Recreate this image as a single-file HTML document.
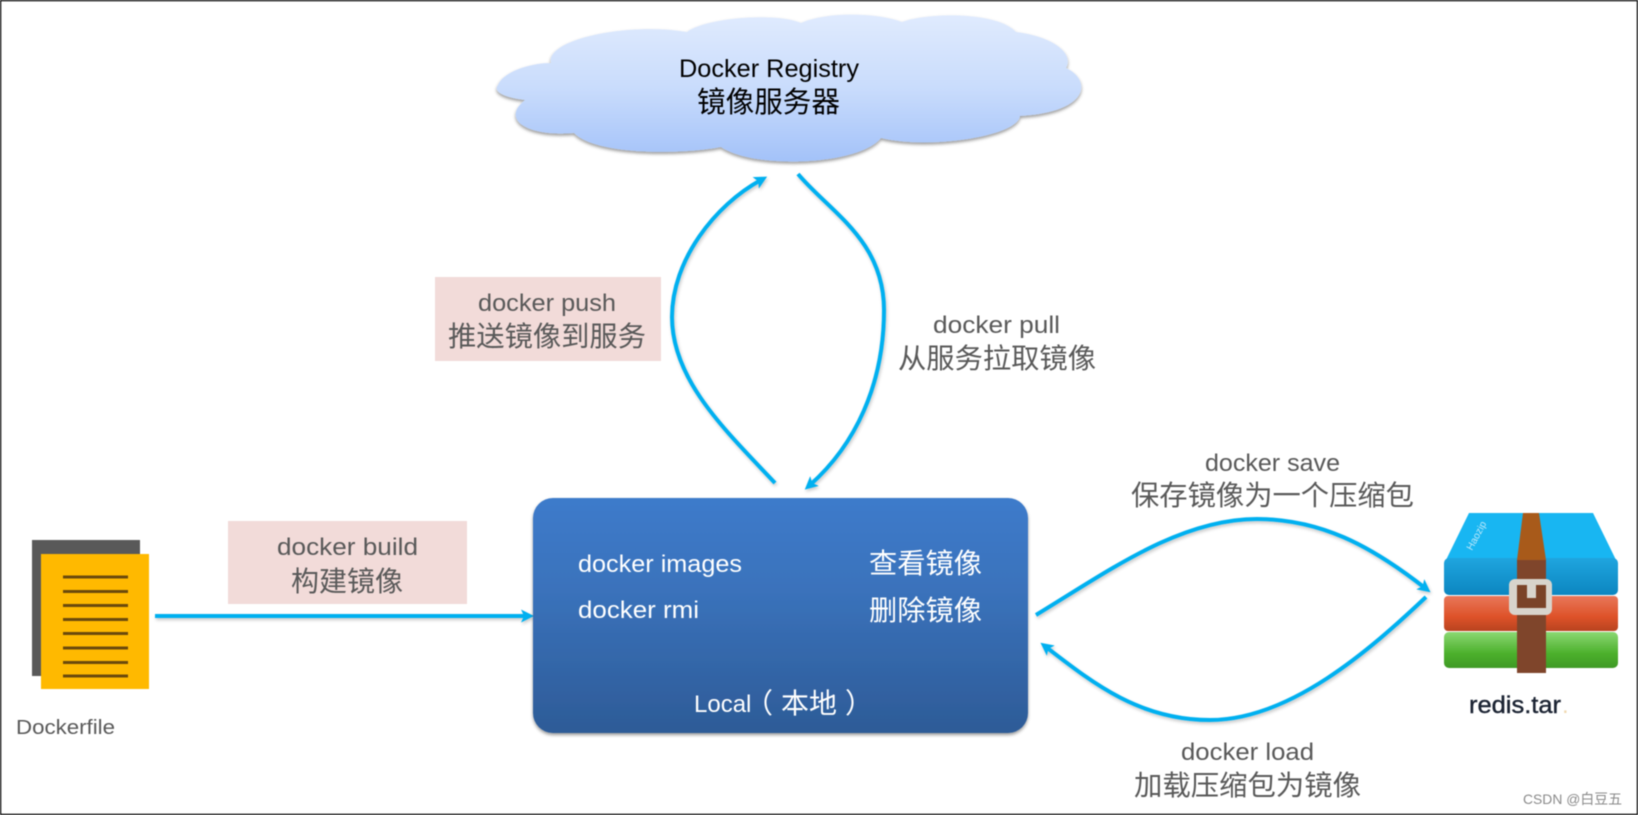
<!DOCTYPE html>
<html>
<head>
<meta charset="utf-8">
<style>
html,body{margin:0;padding:0;background:#fff;width:1638px;height:815px;overflow:hidden}
svg{display:block;filter:blur(.45px)}
text{font-family:"Liberation Sans","Noto Sans CJK SC",sans-serif}
.g{fill:#595959;font-size:24px}
.c{fill:#595959;font-size:28px}
.w{fill:#fff;font-size:24px}
.wc{fill:#fff;font-size:28px}
</style>
</head>
<body>
<svg width="1638" height="815" viewBox="0 0 1638 815" xmlns="http://www.w3.org/2000/svg">
<defs>
<linearGradient id="cl" x1="0" y1="0" x2="0" y2="1"><stop offset="0" stop-color="#e0ebfe"/><stop offset=".5" stop-color="#c9dcfc"/><stop offset="1" stop-color="#a3c2f9"/></linearGradient>
<linearGradient id="bx" x1="0" y1="0" x2="0" y2="1"><stop offset="0" stop-color="#3d7bcb"/><stop offset=".4" stop-color="#3a72bb"/><stop offset="1" stop-color="#2d5b97"/></linearGradient>
<linearGradient id="bl" x1="0" y1="0" x2="0" y2="1"><stop offset="0" stop-color="#1fa5df"/><stop offset="1" stop-color="#0c86c0"/></linearGradient>
<linearGradient id="rd" x1="0" y1="0" x2="0" y2="1"><stop offset="0" stop-color="#e8775a"/><stop offset=".6" stop-color="#de5229"/><stop offset="1" stop-color="#b8431f"/></linearGradient>
<linearGradient id="gr" x1="0" y1="0" x2="0" y2="1"><stop offset="0" stop-color="#8bd873"/><stop offset=".6" stop-color="#4cb02c"/><stop offset="1" stop-color="#3f9a25"/></linearGradient>
<filter id="sh" x="-5%" y="-5%" width="110%" height="115%"><feDropShadow dx="0" dy="2" stdDeviation="1.5" flood-color="#000" flood-opacity=".4"/></filter>
<filter id="ls" x="-10%" y="-10%" width="120%" height="120%"><feDropShadow dx="1" dy="2" stdDeviation="1.5" flood-color="#000" flood-opacity=".22"/></filter>
<marker id="a" markerUnits="userSpaceOnUse" markerWidth="16" markerHeight="16" refX="6" refY="8" orient="auto"><path d="M0,1.5 L13,8 L0,14.5 L3,8 Z" fill="#00b0f0"/></marker>
</defs>

<rect x="0.5" y="0.5" width="1637" height="814" fill="#fff" stroke="#000" stroke-width="1.5"/>

<path filter="url(#sh)" fill="url(#cl)" d="M498,85 C503,72 530,63 551,63 C545,40 625,22 687,32 C705,18 775,12 801,23 C825,12 875,12 902,22 C930,12 998,12 1016,32 C1050,36 1075,52 1066,68 C1092,80 1090,112 1020,116 C1018,136 930,150 881,138 C860,165 755,170 721,147 C680,155 595,155 574,133 C528,137 500,120 525,100 C506,98 492,92 498,85 Z"/>
<text x="679" y="77" font-size="25" fill="#000" textLength="180" lengthAdjust="spacingAndGlyphs">Docker Registry</text>
<text x="697" y="112" font-size="29" fill="#000" textLength="143" lengthAdjust="spacingAndGlyphs">镜像服务器</text>

<rect x="435" y="277" width="226" height="84" fill="#f2dbd9"/>
<rect x="228" y="521" width="239" height="83" fill="#f2dbd9"/>

<g fill="none" stroke="#00b0f0" stroke-width="4" filter="url(#ls)">
<path marker-end="url(#a)" d="M775,483 C725,430 672,380 672,317 C672,260 715,205 761,180"/>
<path marker-end="url(#a)" d="M798,174 C830,212 884,240 884,310 C884,385 855,445 810,485"/>
<path marker-end="url(#a)" d="M155,616 L527,616"/>
<path marker-end="url(#a)" d="M1036,615 C1110,570 1180,519 1257,519 C1320,519 1370,545 1425,588"/>
<path marker-end="url(#a)" d="M1426,597 C1370,650 1290,720 1210,720 C1140,720 1094,684 1046,647"/>
</g>

<text class="g" x="478" y="311" textLength="138" lengthAdjust="spacingAndGlyphs">docker push</text>
<text class="c" x="448" y="346" textLength="198" lengthAdjust="spacingAndGlyphs">推送镜像到服务</text>
<text class="g" x="933" y="333" textLength="127" lengthAdjust="spacingAndGlyphs">docker pull</text>
<text class="c" x="898" y="368" textLength="198" lengthAdjust="spacingAndGlyphs">从服务拉取镜像</text>
<text class="g" x="277" y="555" textLength="141" lengthAdjust="spacingAndGlyphs">docker build</text>
<text class="c" x="291" y="591" textLength="112" lengthAdjust="spacingAndGlyphs">构建镜像</text>
<text class="g" x="1205" y="471" textLength="135" lengthAdjust="spacingAndGlyphs">docker save</text>
<text class="c" x="1131" y="505" textLength="283" lengthAdjust="spacingAndGlyphs">保存镜像为一个压缩包</text>
<text class="g" x="1181" y="760" textLength="133" lengthAdjust="spacingAndGlyphs">docker load</text>
<text class="c" x="1134" y="795" textLength="227" lengthAdjust="spacingAndGlyphs">加载压缩包为镜像</text>

<rect x="533" y="498" width="495" height="235" rx="20" ry="20" fill="url(#bx)" filter="url(#sh)"/>
<text class="w" x="578" y="572" textLength="164" lengthAdjust="spacingAndGlyphs">docker images</text>
<text class="wc" x="869" y="573" textLength="113" lengthAdjust="spacingAndGlyphs">查看镜像</text>
<text class="w" x="578" y="618" textLength="121" lengthAdjust="spacingAndGlyphs">docker rmi</text>
<text class="wc" x="869" y="620" textLength="113" lengthAdjust="spacingAndGlyphs">删除镜像</text>
<text class="w" x="694" y="712">Local</text>
<text class="wc" x="745" y="713" font-size="26">（</text>
<text class="wc" x="781" y="713" font-size="26" textLength="56" lengthAdjust="spacingAndGlyphs">本地</text>
<text class="wc" x="845" y="713" font-size="26">）</text>

<rect x="32" y="540" width="108" height="136" fill="#595959"/>
<rect x="41" y="554" width="108" height="135" fill="#ffb900"/>
<g stroke="#6b4a0c" stroke-width="3">
<path d="M63,577H128M63,591.5H128M63,605.5H128M63,619.5H128M63,633.5H128M63,648H128M63,662.5H128M63,676H128"/>
</g>
<text x="16" y="734" font-size="20" fill="#595959" textLength="99" lengthAdjust="spacingAndGlyphs">Dockerfile</text>

<path d="M1469,513 H1593 L1617,562 H1445 Z" fill="#18b6f2"/>
<rect x="1444" y="558" width="174" height="37" rx="5" fill="url(#bl)"/>
<rect x="1444" y="596" width="174" height="35" rx="4" fill="url(#rd)"/>
<rect x="1444" y="632" width="174" height="36" rx="5" fill="url(#gr)"/>
<path d="M1523,513 H1539 L1546,560 H1517 Z" fill="#a85a1a"/>
<rect x="1517" y="560" width="29" height="113" fill="#7f452b"/>
<rect x="1509" y="579" width="43" height="36" rx="6" fill="#d8d4cc"/>
<rect x="1517" y="585" width="29" height="23" fill="#7a4328"/>
<rect x="1527" y="585" width="9" height="13" fill="#d8d4cc"/>
<text x="1472" y="551" font-size="10" fill="#bfe9fb" transform="rotate(-62 1472 551)">Haozip</text>
<text x="1469" y="713" font-size="24" fill="#1c2433" stroke="#1c2433" stroke-width=".4" textLength="92" lengthAdjust="spacingAndGlyphs">redis.tar</text>
<text x="1562" y="713" font-size="24" fill="#f0d9b0">.</text>

<text x="1523" y="804" font-size="14" fill="#8a8a8a" textLength="99" lengthAdjust="spacingAndGlyphs">CSDN @白豆五</text>
</svg>
</body>
</html>
